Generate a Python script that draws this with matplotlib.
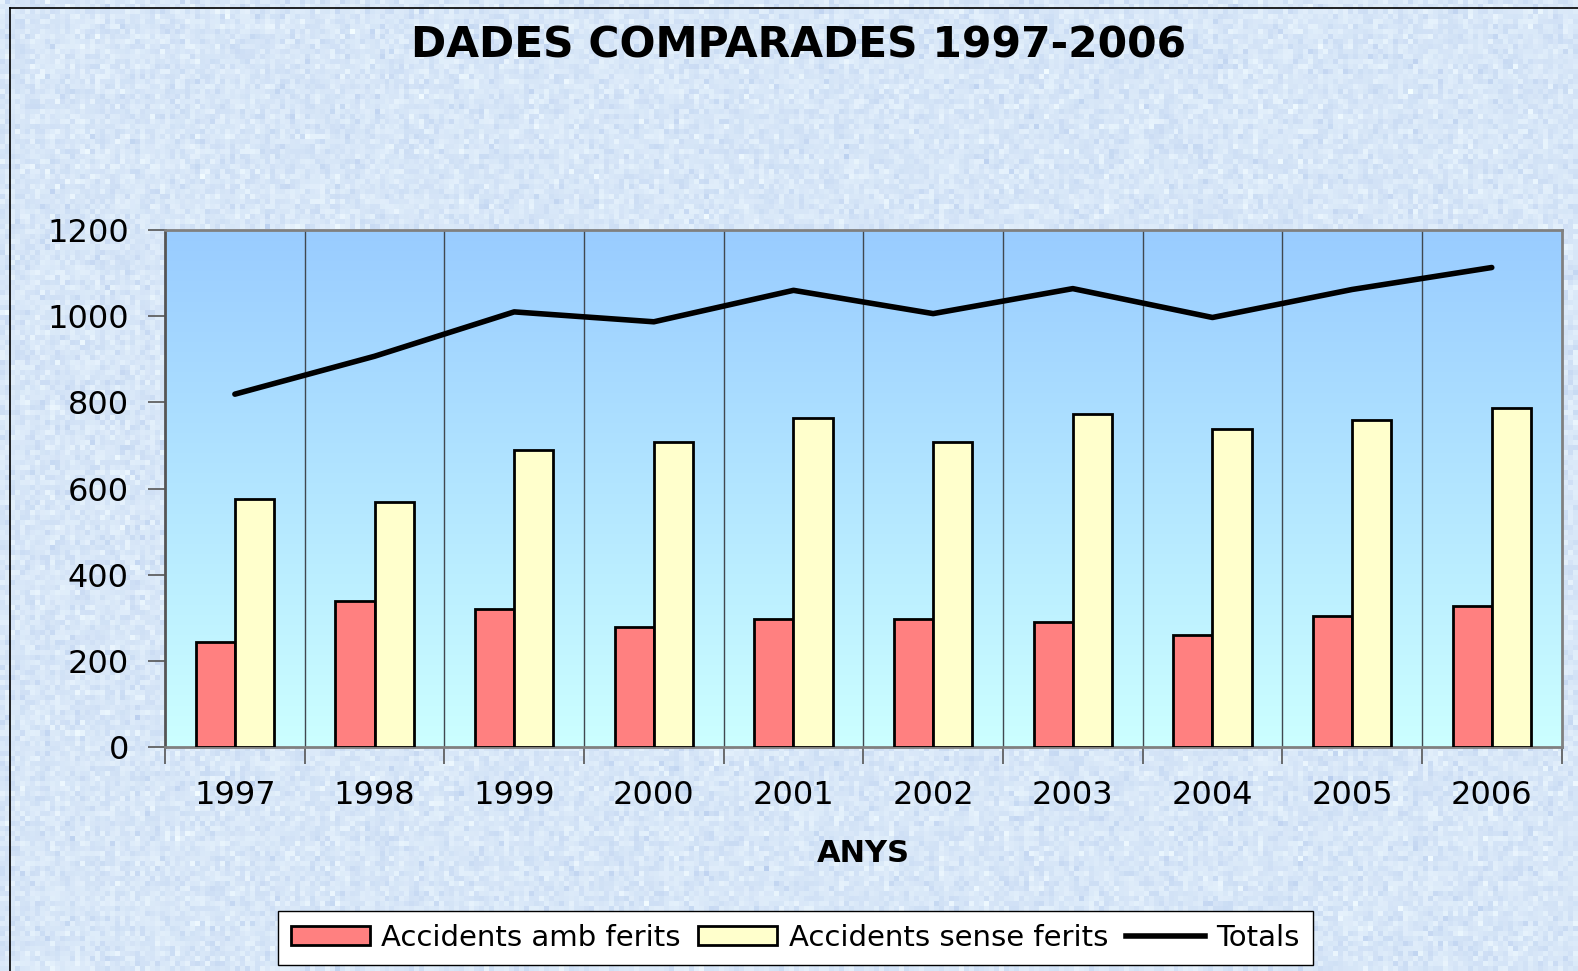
import numpy as np
import matplotlib.pyplot as plt
from matplotlib.lines import Line2D
from matplotlib.patches import Patch

plt.rcParams['font.family'] = ['DejaVu Sans']

# data
years = ['1997', '1998', '1999', '2000', '2001', '2002', '2003', '2004', '2005', '2006']
amb_ferits = [243, 339, 320, 278, 297, 297, 290, 260, 304, 327]
sense_ferits = [575, 568, 690, 709, 763, 709, 774, 737, 758, 786]
totals = [819, 907, 1010, 987, 1060, 1006, 1064, 997, 1062, 1113]

fig = plt.figure(figsize=(15.78, 9.71), dpi=100)
fig.patch.set_facecolor('#d9e8f9')

# light paper-like texture behind everything (decoration only)
rng = np.random.default_rng(3)
tex = rng.normal(0, 1, (194, 316))
base = np.array([0xd8, 0xe7, 0xf8]) / 255
texture = np.clip(base[None, None, :] + 0.028 * tex[:, :, None] * np.array([1.0, 0.8, 0.3]), 0, 1)
bg = fig.add_axes([0, 0, 1, 1], zorder=-10)
bg.imshow(texture, aspect='auto', interpolation='nearest')
bg.axis('off')

# border on top and left of the chart area
fig.add_artist(Line2D([10 / 1578, 10 / 1578], [0, 1 - 8 / 971], transform=fig.transFigure, color='black', lw=1.2))
fig.add_artist(Line2D([10 / 1578, 1], [1 - 8 / 971, 1 - 8 / 971], transform=fig.transFigure, color='black', lw=1.2))

ax = fig.add_axes([0.1046, 0.2307, 0.885, 0.5324])

# gradient plot area
grad = np.linspace(0, 1, 256).reshape(-1, 1)
top = np.array([0x99, 0xcc, 0xff]) / 255
bot = np.array([0xcc, 0xff, 0xff]) / 255
img = top[None, None, :] * (1 - grad[:, :, None]) + bot[None, None, :] * grad[:, :, None]
ax.imshow(img, extent=[0, 1, 0, 1], transform=ax.transAxes, aspect='auto', zorder=0)

x = np.arange(len(years))
w = 0.28
ax.bar(x - w / 2, amb_ferits, w, color='#ff8080', edgecolor='black', linewidth=2, zorder=3,
       label='Accidents amb ferits')
ax.bar(x + w / 2, sense_ferits, w, color='#ffffcc', edgecolor='black', linewidth=2, zorder=3,
       label='Accidents sense ferits')
ax.plot(x, totals, color='black', lw=4, solid_capstyle='round', zorder=4, label='Totals')

ax.set_xlim(-0.5, len(years) - 0.5)
ax.set_ylim(0, 1200)
ax.set_yticks(range(0, 1201, 200))
ax.set_xticks(x)
ax.set_xticklabels(years)
ax.set_xticks(np.arange(-0.5, len(years), 1), minor=True)
for b in np.arange(0.5, len(years) - 1, 1):
    ax.axvline(b, color='#404850', lw=1, zorder=1)

ax.tick_params(axis='x', which='major', length=0, pad=24, labelsize=23)
ax.tick_params(axis='x', which='minor', length=12, width=1.2, color='#555555', direction='out')
ax.tick_params(axis='y', length=12, width=1.2, color='#555555', direction='out', labelsize=23, pad=14)
for s in ax.spines.values():
    s.set_color('#808080')
    s.set_linewidth(2)
ax.spines['left'].set_color('#555555')

ax.set_xlabel('ANYS', fontsize=22, fontweight='bold', labelpad=20)
fig.text(0.506, 0.953, 'DADES COMPARADES 1997-2006', ha='center', va='center',
         fontsize=30.5, fontweight='bold')

handles = [Patch(facecolor='#ff8080', edgecolor='black', linewidth=2),
           Patch(facecolor='#ffffcc', edgecolor='black', linewidth=2),
           Line2D([], [], color='black', lw=4)]
labels = ['Accidents amb ferits', 'Accidents sense ferits', 'Totals']
leg = fig.legend(handles, labels, loc='center', bbox_to_anchor=(0.504, 0.034), ncol=3,
                 fontsize=21, frameon=True, fancybox=False, edgecolor='black',
                 handlelength=2.7, handleheight=0.6, handletextpad=0.4, columnspacing=0.6,
                 borderpad=0.45)
leg.get_frame().set_facecolor('white')
leg.get_frame().set_alpha(1)
leg.get_frame().set_linewidth(1)

fig.savefig('out.png', dpi=100, facecolor=fig.get_facecolor())
